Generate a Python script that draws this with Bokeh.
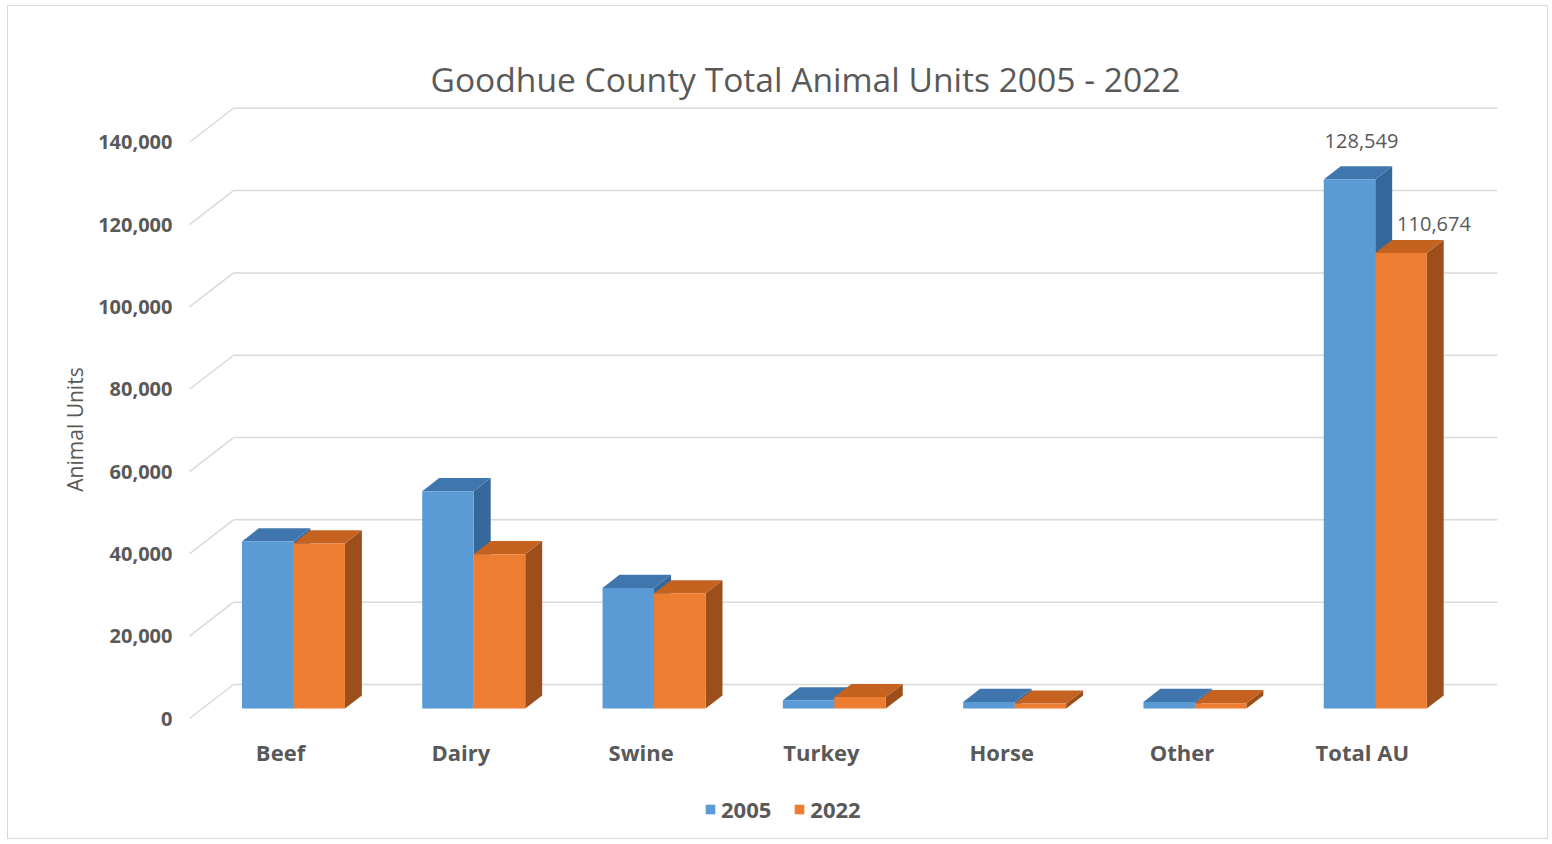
from bokeh.plotting import figure
from bokeh.models import Range1d, FixedTicker, NumeralTickFormatter, Legend, LegendItem
from bokeh.embed import file_html
from bokeh.resources import INLINE
from bokeh.core.properties import value

# ---------------- data ----------------
categories = ["Beef", "Dairy", "Swine", "Turkey", "Horse", "Other", "Total AU"]
units_2005 = [40600, 52800, 29300, 2000, 1600, 1600, 128549]
units_2022 = [40100, 37500, 28000, 2800, 1200, 1300, 110674]
series_names = ["2005", "2022"]
y_ticks = [0, 20000, 40000, 60000, 80000, 100000, 120000, 140000]

title_text = "Goodhue County Total Animal Units 2005 - 2022"
y_title = "Animal Units"

# ---------------- styles / geometry (page pixels) ----------------
OX, OY = 8, 6                 # where the figure content starts on the page
W, H = 1541, 834
FRAME_L, FRAME_R, FRAME_T, FRAME_B = 186, 1500, 30, 828
CAT0_PX, CAT_STEP_PX = 280.0, 180.3      # front-plane category centres
Y0_PX, PX_PER_UNIT = 718, 0.004116         # front-plane zero, scale

TEXT = "#595959"
GRID = "#d9d9d9"
FRONT = ["#5B9BD5", "#ED7D31"]
TOP = ["#3F76AE", "#C5621F"]
SIDE = ["#34689A", "#9C4F1B"]


def px_to_x(px):
    return (px - CAT0_PX) / CAT_STEP_PX


def px_to_y(py):
    return (Y0_PX - py) / PX_PER_UNIT


# depth vector of the 3D box (px -> data units)
DX = 44 / CAT_STEP_PX
DY = 34 / PX_PER_UNIT
F_FRONT = 10 / 34      # bars' front plane, as fraction of depth
F_DEPTH = 0.385        # bars' depth, as fraction of depth
BAR_W = 51.5 / CAT_STEP_PX

x_range = Range1d(px_to_x(FRAME_L), px_to_x(FRAME_R))
y_range = Range1d(px_to_y(FRAME_B), px_to_y(FRAME_T))

p = figure(width=W, height=H, x_range=x_range, y_range=y_range,
           output_backend="svg", toolbar_location=None,
           min_border_left=FRAME_L - OX, min_border_right=OX + W - FRAME_R,
           min_border_top=FRAME_T - OY, min_border_bottom=OY + H - FRAME_B)
p.styles = {"border": "1px solid #d9d9d9", "margin-left": f"{OX - 1}px", "margin-top": f"{OY - 1}px"}
p.outline_line_color = None
p.xgrid.visible = False
p.ygrid.visible = False
p.xaxis.visible = False
p.background_fill_color = "white"
p.border_fill_color = "white"

# y axis
ya = p.yaxis[0]
ya.ticker = FixedTicker(ticks=y_ticks)
ya.formatter = NumeralTickFormatter(format="0,0")
ya.axis_line_color = None
ya.major_tick_line_color = None
ya.minor_tick_line_color = None
ya.major_tick_out = 0
ya.major_label_standoff = 14
ya.major_label_text_font = "Open Sans"
ya.major_label_text_font_size = "20px"
ya.major_label_text_font_style = "bold"
ya.major_label_text_color = TEXT
ya.axis_label = y_title
ya.axis_label_text_font = "Open Sans"
ya.axis_label_text_font_size = "21px"
ya.axis_label_text_font_style = "normal"
ya.axis_label_text_color = TEXT
ya.axis_label_standoff = 6

# title
p.text(x=[px_to_x(430)], y=[px_to_y(78)], text=[title_text],
       text_align="left", text_baseline="middle",
       text_font=value("Open Sans"), text_font_size="33.6px", text_color=TEXT)

# category labels on the front plane
p.text(x=list(range(len(categories))), y=[px_to_y(751)] * len(categories), text=categories,
       text_align="center", text_baseline="middle",
       text_font=value("Open Sans"), text_font_size="22px", text_font_style="bold",
       text_color=TEXT)

# back wall gridlines and side diagonals
x_front_left = px_to_x(189)
x_back_right = px_to_x(1497)
p.segment(x0=[x_front_left] * len(y_ticks), y0=y_ticks,
          x1=[x_front_left + DX] * len(y_ticks), y1=[t + DY for t in y_ticks],
          line_color=GRID, line_width=1.5)
p.segment(x0=[x_front_left + DX] * len(y_ticks), y0=[t + DY for t in y_ticks],
          x1=[x_back_right] * len(y_ticks), y1=[t + DY for t in y_ticks],
          line_color=GRID, line_width=1.5)

# 3D bars
base = F_FRONT * DY
bdx, bdy = F_DEPTH * DX, F_DEPTH * DY
front_renderers = []
for s, vals in enumerate([units_2005, units_2022]):
    xl = [i + F_FRONT * DX - BAR_W + s * BAR_W for i in range(len(categories))]
    xr = [x + BAR_W for x in xl]
    tops = [base + v for v in vals]
    side_xs = [[r, r + bdx, r + bdx, r] for r in xr]
    side_ys = [[base, base + bdy, t + bdy, t] for t in tops]
    top_xs = [[l, r, r + bdx, l + bdx] for l, r in zip(xl, xr)]
    top_ys = [[t, t, t + bdy, t + bdy] for t in tops]
    p.patches(xs=side_xs, ys=side_ys, fill_color=SIDE[s], line_color=None)
    p.patches(xs=top_xs, ys=top_ys, fill_color=TOP[s], line_color=None)
    r = p.quad(left=xl, right=xr, bottom=[base] * len(vals), top=tops,
               fill_color=FRONT[s], line_color=None)
    front_renderers.append(r)

# data labels on the Total AU bars
last = len(categories) - 1
lbl_x = [last + F_FRONT * DX - BAR_W / 2, last + F_FRONT * DX + BAR_W / 2]
lbl_y = [base + units_2005[last], base + units_2022[last]]
lbl_t = [f"{units_2005[last]:,}", f"{units_2022[last]:,}"]
offsets = [(12, -38), (33, -29)]
for k in range(2):
    p.text(x=[lbl_x[k]], y=[lbl_y[k]], text=[lbl_t[k]],
           x_offset=offsets[k][0], y_offset=offsets[k][1],
           text_align="center", text_baseline="middle",
           text_font=value("Open Sans"), text_font_size="20px",
           text_color=TEXT)

# legend
legend = Legend(items=[LegendItem(label=series_names[i], renderers=[front_renderers[i]]) for i in range(2)],
                orientation="horizontal", location=(704 - FRAME_L, 4),
                glyph_width=12, glyph_height=12, label_standoff=5, spacing=22,
                padding=0, margin=0, border_line_color=None,
                label_text_font="Open Sans", label_text_font_size="22px",
                label_text_font_style="bold", label_text_color=TEXT,
                background_fill_alpha=0)
p.add_layout(legend, "center")

open("out.html", "w").write(file_html(p, INLINE))
